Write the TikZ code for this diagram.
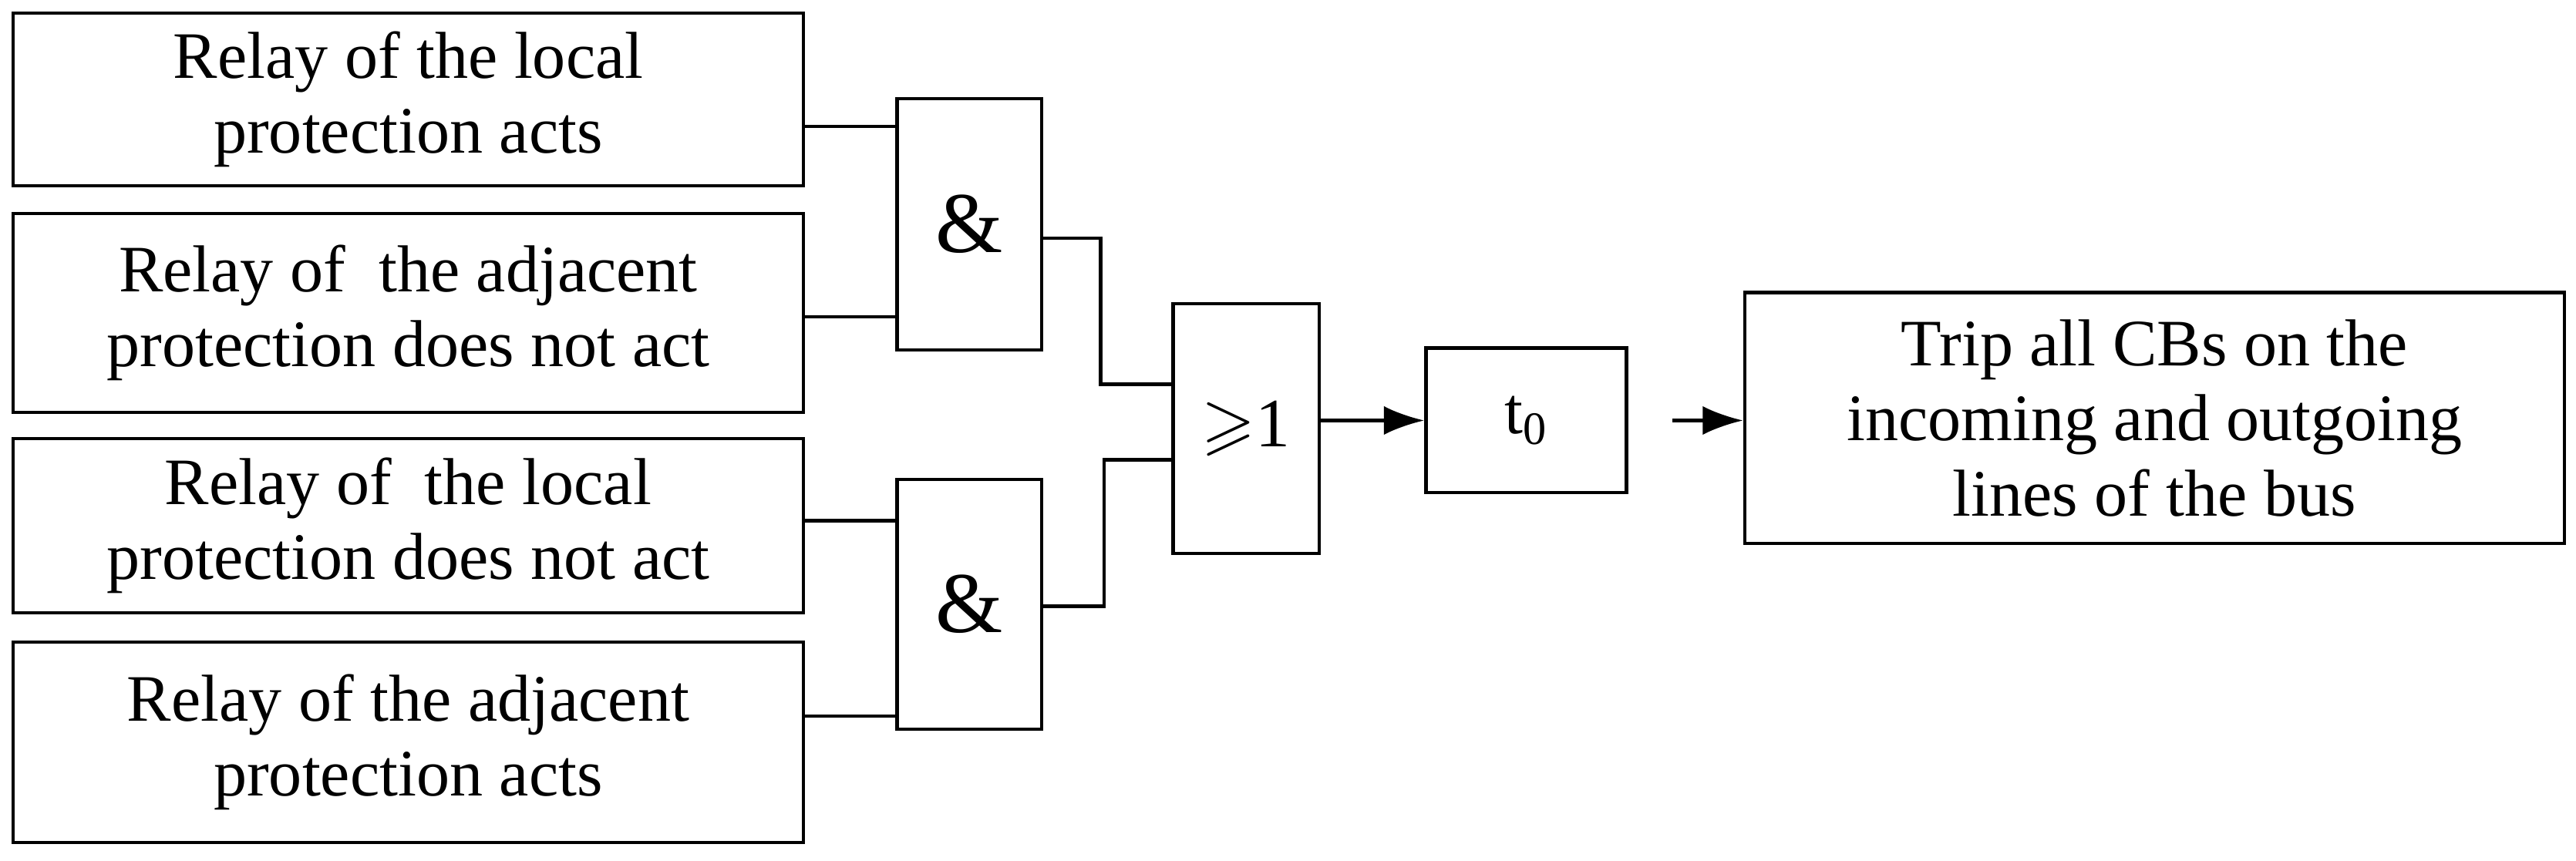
\documentclass[tikz,border=0pt]{standalone}
\usepackage{fontspec}
\setmainfont{Liberation Serif}
\usepackage{amssymb}
\usetikzlibrary{positioning,arrows.meta}

\begin{document}
\begin{tikzpicture}[x=0.02cm,y=-0.02cm,
    box/.style={draw,line width=1.2pt,align=center,inner sep=0pt,
        font=\fontsize{23}{26}\selectfont},
    gate/.style={draw,line width=1.2pt,inner sep=0pt,minimum width=1.76cm},
    wire/.style={line width=1.2pt},
    arr/.style={line width=1.2pt,-{Latex[length=14pt,width=10pt]}}]
        \useasboundingbox (0,0) rectangle (1568,524);
        % input boxes
        \node[box,minimum width=9.62cm,minimum height=2.1cm] (A) at (248.5,60.5)
            {Relay of the local\\protection acts};
        \node[box,minimum width=9.62cm,minimum height=2.42cm] (B) at (248.5,190.5)
            {Relay of\ \ the adjacent\\protection does not act};
        \node[box,minimum width=9.62cm,minimum height=2.12cm] (C) at (248.5,320)
            {Relay of\ \ the local\\protection does not act};
        \node[box,minimum width=9.62cm,minimum height=2.44cm] (D) at (248.5,452)
            {Relay of the adjacent\\protection acts};
        % gates
        \node[gate,minimum height=3.06cm,font=\fontsize{30}{30}\selectfont] (G1) at (590,136.5) {\&};
        \node[gate,minimum height=3.04cm,font=\fontsize{30}{30}\selectfont] (G2) at (590,368) {\&};
        \node[gate,minimum width=1.78cm,minimum height=3.04cm,font=\fontsize{24}{24}\selectfont] (OR) at (758.5,261) {$\geqslant$1};
        \node[box,minimum width=2.44cm,minimum height=1.76cm] (T) at (929,256) {t\textsubscript{0}};
        \node[box,minimum width=9.98cm,minimum height=3.06cm] (OUT) at (1311.5,254.5)
            {Trip all CBs on the\\incoming and outgoing\\lines of the bus};
        \coordinate (s) at (1018,256);
        % wires
        \draw[wire] (A.east |- 0,77) -- (G1.west |- 0,77);
        \draw[wire] (B.east |- 0,193) -- (G1.west |- 0,193);
        \draw[wire] (C.east |- 0,317) -- (G2.west |- 0,317);
        \draw[wire] (D.east |- 0,436) -- (G2.west |- 0,436);
        \draw[wire] (G1.east |- 0,145) -| (670,234) -- (OR.west |- 0,234);
        \draw[wire] (G2.east |- 0,369) -| (672,280) -- (OR.west |- 0,280);
        \draw[arr] (OR.east |- T.west) -- (T.west);
        \draw[arr] (s) -- (OUT.west |- s);
\end{tikzpicture}
\end{document}
